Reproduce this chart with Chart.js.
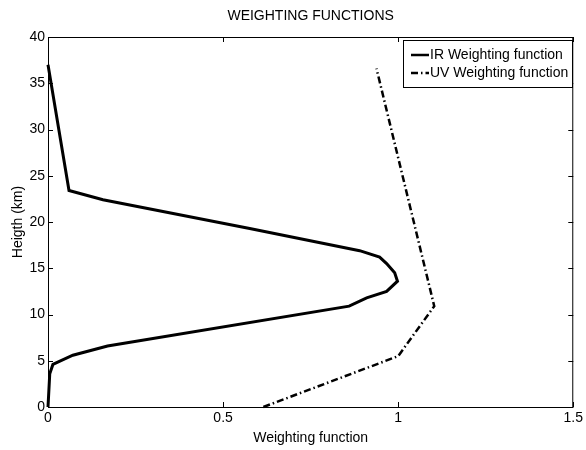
<!DOCTYPE html>
<html>
<head>
<meta charset="utf-8">
<title>Weighting functions</title>
<script src="https://cdn.jsdelivr.net/npm/chart.js@4.4.1/dist/chart.umd.min.js"></script>
<style>
  html, body { margin: 0; padding: 0; background: #fff; }
  #wrap { width: 586px; height: 450px; }
</style>
</head>
<body>
<div id="wrap"><canvas id="chart" width="586" height="450"></canvas></div>
<script>
// values
const irHeight = [0, 3.6, 4.6, 5.6, 6.6, 10.9, 11.8, 12.5, 13.6, 14.5, 15.5, 16.2, 16.9, 19.3, 22.4, 23.4, 37];
const irWeight = [0, 0.005, 0.014, 0.071, 0.17, 0.86, 0.91, 0.967, 0.998, 0.99, 0.967, 0.947, 0.89, 0.576, 0.157, 0.06, 0];
const uvHeight = [0, 5.5, 10.9, 36.6];
const uvWeight = [0.615, 1.0, 1.103, 0.938];

const xTicks = [0, 0.5, 1, 1.5];
const yTicks = [0, 5, 10, 15, 20, 25, 30, 35, 40];

const chartTitle = "WEIGHTING FUNCTIONS";
const xTitle = "Weighting function";
const yTitle = "Heigth (km)";
const seriesNames = ["IR Weighting function", "UV Weighting function"];

const uvDash = [7, 3, 1.5, 3];

// pick a condensed face if the machine has one, else plain Arial metrics
const probe = document.createElement("canvas").getContext("2d");
probe.font = "20px monospace";
const monoWidth = probe.measureText("Weighting function 0.5").width;
probe.font = "20px 'Liberation Sans Narrow', monospace";
const hasNarrow = probe.measureText("Weighting function 0.5").width !== monoWidth;
const family = hasNarrow ? "'Liberation Sans Narrow', 'Liberation Sans', sans-serif" : "'Liberation Sans', Arial, sans-serif";
const size = hasNarrow ? 17 : 14;

Chart.defaults.font.family = family;
Chart.defaults.font.size = size;
Chart.defaults.color = "#000";

const toPoints = (xs, ys) => xs.map((x, i) => ({ x: x, y: ys[i] }));

// box, inward ticks, title and legend, MATLAB style
const matlabFrame = {
	id: "matlabFrame",
	afterDraw(chart) {
		const { ctx, chartArea: a, scales } = chart;
		const tick = 5;
		ctx.save();
		ctx.strokeStyle = "#000";
		ctx.lineWidth = 1;
		ctx.strokeRect(a.left + 0.5, a.top + 0.5, a.right - a.left - 1, a.bottom - a.top);
		ctx.beginPath();
		xTicks.forEach((v) => {
			const px = Math.round(scales.x.getPixelForValue(v)) + 0.5;
			ctx.moveTo(px, a.bottom); ctx.lineTo(px, a.bottom - tick);
			ctx.moveTo(px, a.top); ctx.lineTo(px, a.top + tick);
		});
		yTicks.forEach((v) => {
			const py = Math.round(scales.y.getPixelForValue(v)) + 0.5;
			ctx.moveTo(a.left, py); ctx.lineTo(a.left + tick, py);
			ctx.moveTo(a.right, py); ctx.lineTo(a.right - tick, py);
		});
		ctx.stroke();

		ctx.fillStyle = "#000";
		ctx.font = size + "px " + family;
		ctx.textAlign = "center";
		ctx.textBaseline = "middle";
		ctx.fillText(chartTitle, (a.left + a.right) / 2, 16);

		// legend box in the upper right corner
		const bx = 403, by = 40, bw = 169, bh = 47;
		ctx.fillStyle = "#fff";
		ctx.fillRect(bx, by, bw, bh);
		ctx.strokeRect(bx + 0.5, by + 0.5, bw, bh);
		const rows = [55, 73];
		ctx.lineWidth = 2.5;
		ctx.beginPath();
		ctx.moveTo(411, rows[0]); ctx.lineTo(429, rows[0]);
		ctx.stroke();
		ctx.setLineDash(uvDash);
		ctx.beginPath();
		ctx.moveTo(411, rows[1]); ctx.lineTo(429, rows[1]);
		ctx.stroke();
		ctx.setLineDash([]);
		ctx.fillStyle = "#000";
		ctx.textAlign = "left";
		seriesNames.forEach((name, i) => ctx.fillText(name, 430, rows[i]));
		ctx.restore();
	}
};

new Chart(document.getElementById("chart"), {
	type: "scatter",
	data: {
		datasets: [
			{
				label: seriesNames[0],
				data: toPoints(irWeight, irHeight),
				showLine: true,
				borderColor: "#000",
				borderWidth: 3,
				pointRadius: 0,
				tension: 0,
				clip: false
			},
			{
				label: seriesNames[1],
				data: toPoints(uvWeight, uvHeight),
				showLine: true,
				borderColor: "#000",
				borderWidth: 2.5,
				borderDash: uvDash,
				pointRadius: 0,
				tension: 0,
				clip: false
			}
		]
	},
	options: {
		responsive: false,
		animation: false,
		devicePixelRatio: 1,
		layout: { padding: { left: 0, right: 12, top: 37, bottom: 0 } },
		plugins: {
			legend: { display: false },
			title: { display: false },
			tooltip: { enabled: false }
		},
		scales: {
			x: {
				type: "linear",
				min: 0,
				max: 1.5,
				afterBuildTicks: (s) => { s.ticks = xTicks.map((v) => ({ value: v })); },
				afterFit: (s) => { s.height = 43; },
				grid: { display: false, drawTicks: false },
				border: { display: false },
				ticks: { padding: 3, maxRotation: 0, callback: (v) => String(v) },
				title: { display: true, text: xTitle, padding: { top: 0, bottom: 3 } }
			},
			y: {
				type: "linear",
				min: 0,
				max: 40,
				afterBuildTicks: (s) => { s.ticks = yTicks.map((v) => ({ value: v })); },
				afterFit: (s) => { s.width = 48; },
				grid: { display: false, drawTicks: false },
				border: { display: false },
				ticks: { padding: 3, callback: (v) => String(v) },
				title: { display: true, text: yTitle, padding: { top: 10, bottom: 0 } }
			}
		}
	},
	plugins: [matlabFrame]
});
</script>
</body>
</html>
